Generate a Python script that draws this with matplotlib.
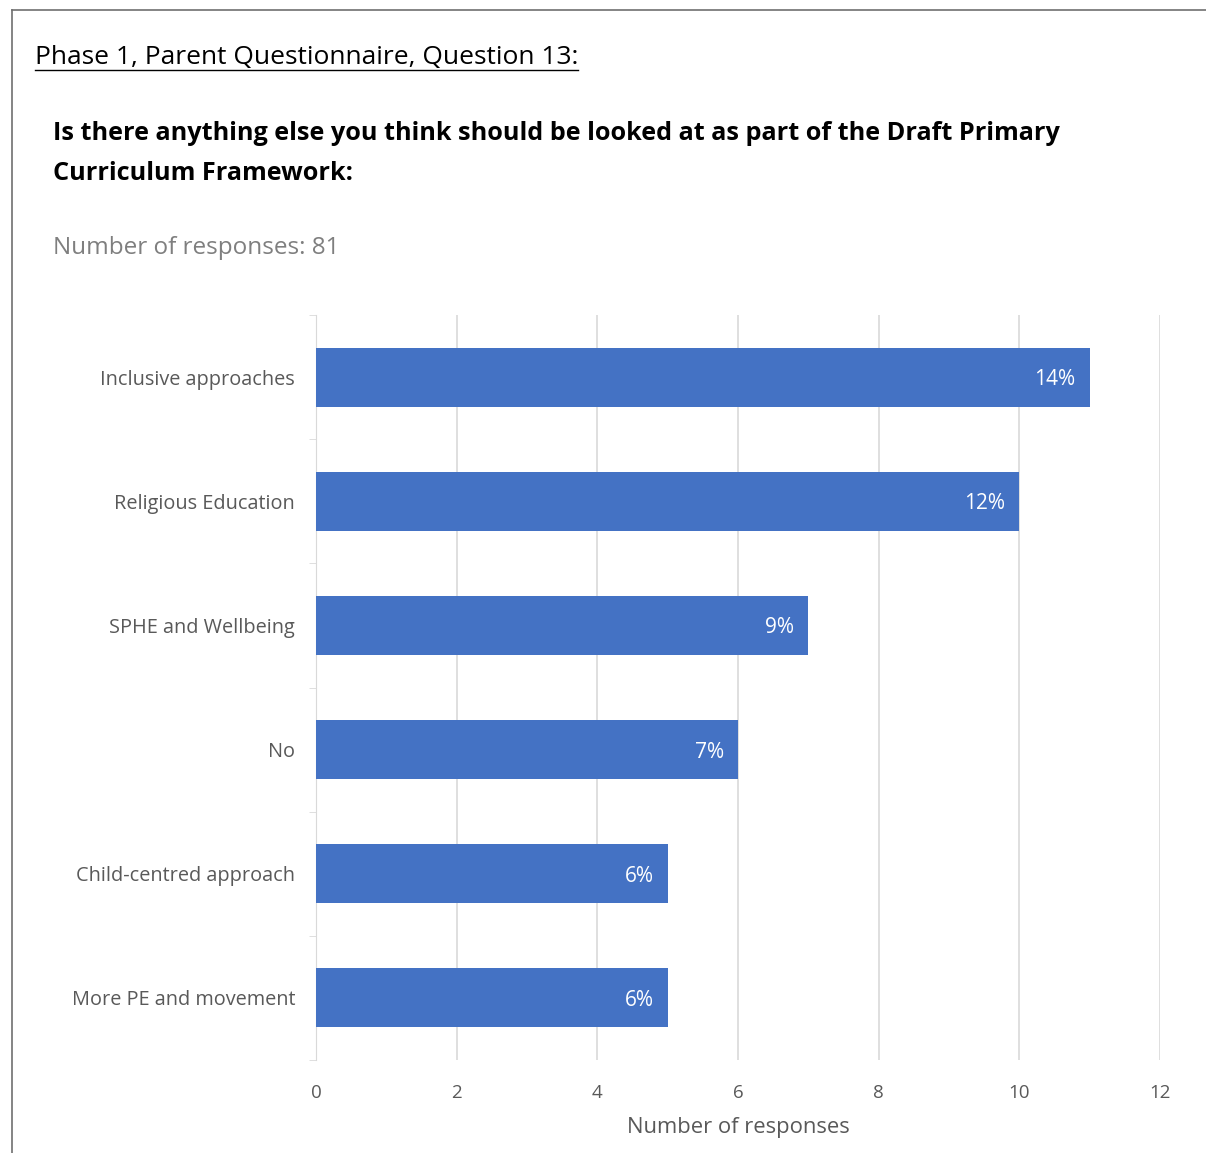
import matplotlib.pyplot as plt
from matplotlib.lines import Line2D
import numpy as np

categories = ['Inclusive approaches', 'Religious Education', 'SPHE and Wellbeing',
              'No', 'Child-centred approach', 'More PE and movement']
counts = [11, 10, 7, 6, 5, 5]
pct_labels = ['14%', '12%', '9%', '7%', '6%', '6%']
x_ticks = [0, 2, 4, 6, 8, 10, 12]

plt.rcParams['font.family'] = ['Open Sans', 'DejaVu Sans']

W, H = 1206, 1153
fig = plt.figure(figsize=(W / 100, H / 100), dpi=100)

# page frame
fig.add_artist(Line2D([12 / W, 1], [1 - 10 / H, 1 - 10 / H], color='#6f6f6f', lw=1.2))
fig.add_artist(Line2D([12 / W, 12 / W], [0, 1 - 10 / H], color='#6f6f6f', lw=1.2))

# headings
t = fig.text(35 / W, 1 - 57 / H, 'Phase 1, Parent Questionnaire, Question 13:',
             fontsize=19, va='center', ha='left', color='black')
fig.canvas.draw()
bb = t.get_window_extent()
fig.add_artist(Line2D([bb.x0 / W, bb.x1 / W], [1 - 70 / H, 1 - 70 / H], color='black', lw=1))

fig.text(53 / W, 1 - 133 / H, 'Is there anything else you think should be looked at as part of the Draft Primary',
         fontsize=18.2, fontweight='bold', va='center', ha='left')
fig.text(53 / W, 1 - 173 / H, 'Curriculum Framework:',
         fontsize=18.2, fontweight='bold', va='center', ha='left')
fig.text(53 / W, 1 - 248 / H, 'Number of responses: 81',
         fontsize=17.5, color='#7f7f7f', va='center', ha='left')

ax = fig.add_axes([316 / W, 1 - 1060 / H, (1160 - 316) / W, (1060 - 315) / H])
y = np.arange(len(categories))
ax.barh(y, counts, height=0.475, color='#4472c4', zorder=3)
for yi, c, lab in zip(y, counts, pct_labels):
    ax.text(c - 0.2, yi + 0.02, lab, color='white', fontsize=15, ha='right', va='center', zorder=4)

ax.set_ylim(len(categories) - 0.5, -0.5)
ax.set_xlim(0, 12)
ax.set_yticks(y)
ax.set_yticklabels(categories, fontsize=14.3, color='#595959')
ax.set_yticks(np.arange(-0.5, len(categories)), minor=True)
ax.tick_params(axis='y', which='major', length=0, pad=15)
ax.tick_params(axis='y', which='minor', length=5, color='#d9d9d9', direction='out')
ax.set_xticks(x_ticks)
ax.tick_params(axis='x', length=0, labelsize=13.5, labelcolor='#595959', pad=17)
ax.set_xlabel('Number of responses', fontsize=15.8, color='#595959', labelpad=11)
ax.grid(axis='x', color='#d9d9d9', lw=1.2, zorder=0)
for s in ['top', 'right', 'bottom']:
    ax.spines[s].set_visible(False)
ax.spines['left'].set_color('#d9d9d9')

fig.savefig('out.png', dpi=100)
